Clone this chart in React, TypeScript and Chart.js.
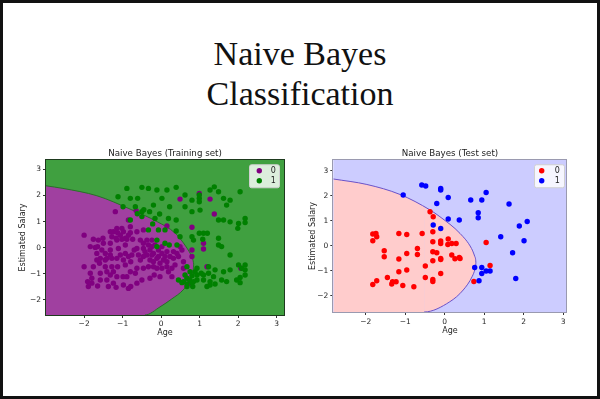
import React, { useEffect, useRef } from 'react';
import { Chart, registerables } from 'chart.js';

Chart.register(...registerables);

type Pt = [number, number];

// ---------- text ----------
const HEADLINE = ['Naive Bayes', 'Classification'];
const TRAIN_TITLE = 'Naive Bayes (Training set)';
const TEST_TITLE = 'Naive Bayes (Test set)';
const X_LABEL = 'Age';
const Y_LABEL = 'Estimated Salary';
const CLASS_LABELS = ['0', '1'];

// ---------- ticks ----------
const X_TICKS = [-2, -1, 0, 1, 2, 3];
const Y_TICKS = [-2, -1, 0, 1, 2, 3];

// ---------- axis limits ----------
const TRAIN_X_RANGE: Pt = [-2.99, 3.19];
const TRAIN_Y_RANGE: Pt = [-2.58, 3.36];
const TEST_X_RANGE: Pt = [-2.82, 3.09];
const TEST_Y_RANGE: Pt = [-2.65, 3.43];

// ---------- training set ----------
const TRAIN_CLASS1: Pt[] = [
  [-1.12, 1.95], [-0.89, 2.27], [-0.8, 1.89], [-0.61, 1.89], [-0.5, 2.31], [-0.33, 2.27], [-0.11, 2.21],
  [0.15, 2.21], [0.39, 2.31], [-0.67, 1.57], [-0.2, 1.63], [0.02, 1.89], [-0.5, 1.38], [-0.3, 1.38],
  [-0.16, 1.12], [0.19, 1.12], [0.39, 1.06], [-0.22, 0.91], [-0.04, 1.29], [0.22, 1.57], [0.62, 2.02],
  [0.8, 1.82], [0.99, 2.02], [0.99, 1.89], [0.99, 1.76], [0.62, 1.57], [0.8, 1.38], [1.01, 1.44],
  [1.27, 2.21], [1.38, 2.33], [1.49, 2.14], [1.62, 1.89], [1.79, 1.82], [2.05, 2.14], [1.7, 1.63],
  [1.49, 1.06], [1.62, 1.06], [1.79, 0.99], [2.01, 0.93], [1.99, 0.74], [2.18, 1.12], [2.18, 0.96],
  [-0.07, 0.68], [0.1, 0.68], [0.39, 0.64], [0.49, 0.42], [0.41, 0.1], [0.21, 0.1], [-0.11, 0.29],
  [-0.11, 0.04], [0.1, 0.17], [-0.33, 0.68], [-0.8, 1.06], [-0.5, 1.19], [-0.99, 1.57], [0.99, 0.55],
  [1.1, 0.55], [1.2, 0.55], [1.49, 0.36], [1.49, 0.1], [1.57, 0.04], [1.79, -0.28], [0.8, 0.42],
  [0.84, 0.29], [1.08, 0.32], [0.67, -0.73], [0.93, -0.79], [1.23, -0.73], [1.4, -0.85], [1.62, -0.92],
  [1.79, -0.85], [2.01, -0.66], [2.09, -0.79], [2.18, -0.66], [2.18, -0.85], [2.18, -1.05], [2.05, -1.14],
  [1.96, -1.24], [2.05, -1.34], [1.4, -1.39], [1.27, -1.3], [1.1, -1.24], [0.93, -1.05], [0.8, -1.08],
  [0.67, -1.17], [0.58, -1.3], [0.67, -1.39], [0.8, -1.34], [0.93, -1.24], [1.04, -0.98], [1.19, -1.49],
  [1.27, -1.43], [1.57, -1.24], [1.7, -1.3], [0.67, -1.49], [0.54, -1.34], [0.82, -1.49], [1.1, -1.05],
  [1.23, -0.98], [1.36, -1.11], [0.45, -1.24], [0.75, -0.92], [0.88, -0.92], [0.84, -1.3], [0.62, -1.05],
  [0.74, -1.24], [-0.62, 1.3], [-0.45, 1.45],
];

const TRAIN_CLASS0: Pt[] = [
  [-2.0, 0.48], [-2.0, -0.73], [-1.84, 0.04], [-1.76, 0.32], [-1.71, 0.01], [-1.65, 0.04], [-1.58, -0.41],
  [-1.51, 0.36], [-1.41, -0.41], [-1.32, 0.61], [-1.28, 0.42], [-1.24, 0.61], [-1.17, 0.36], [-1.13, 0.57],
  [-1.06, 0.48], [-1.02, 0.32], [-1.11, -0.03], [-0.98, 0.61], [-0.89, 0.32], [-0.8, 0.57], [-0.74, 0.32],
  [-0.7, -0.09], [-0.93, -0.22], [-1.06, -0.28], [-1.15, -0.41], [-1.28, -0.73], [-1.13, -0.73],
  [-0.93, -0.66], [-0.85, -0.34], [-0.79, -0.54], [-1.41, -0.92], [-1.24, -0.92], [-1.15, -1.11],
  [-1.32, -1.05], [-1.58, -0.98], [-1.84, -0.98], [-1.91, -1.3], [-1.89, -1.49], [-1.8, -1.36],
  [-1.65, -1.47], [-1.41, -1.24], [-1.37, -1.49], [-1.17, -1.52], [-0.99, -1.11], [-0.89, -1.11],
  [-0.79, -1.49], [-0.85, -1.56], [-0.63, -0.79], [-0.46, -0.79], [-0.33, -0.73], [-0.54, -0.47],
  [-0.46, -0.34], [-0.37, -0.28], [-0.29, -0.09], [-0.24, 0.04], [-0.2, -0.22], [-0.11, -0.41],
  [-0.2, -0.54], [-0.29, -0.47], [-0.46, -0.03], [-0.63, -0.03], [-0.54, 0.29], [-0.46, 0.17],
  [-0.37, 0.29], [-0.24, 0.29], [-0.07, -0.09], [0.02, -0.22], [0.06, -0.47], [0.15, -0.15],
  [0.23, -0.34], [0.15, -0.73], [0.02, -0.79], [-0.11, -0.79], [-0.18, -1.05], [0.19, -0.92],
  [0.28, -1.11], [0.32, -0.15], [0.41, -0.22], [0.58, -0.79], [0.54, -0.09], [0.8, -0.09], [0.58, -0.54],
  [0.8, -0.34], [-0.8, -0.92], [-0.67, -0.98], [-1.6, -0.6], [-1.45, -0.73], [-1.76, -0.73],
  [-1.45, -0.22], [-1.54, -0.09], [-1.32, -0.09], [-1.67, -0.22], [-0.93, 0.1], [-0.85, 0.48],
  [-1.19, 1.38], [-0.85, 1.06], [-0.65, 1.42], [0.15, 0.83], [0.49, 1.86], [0.99, 2.08], [1.27, 1.86],
  [1.38, 1.29], [0.8, 0.78], [1.1, 0.17], [1.1, -0.05], [1.19, -0.73], [2.07, -0.79], [0.78, -1.39],
  [-0.33, 0.1], [-0.16, 0.1], [0.02, 0.04], [-0.42, -0.15], [-0.24, -0.28], [-0.07, -0.34], [0.1, -0.34],
  [-0.2, -0.73], [-0.03, -0.6], [0.15, -0.54], [0.32, -0.41], [0.36, -0.66], [0.28, -0.79], [0.45, -0.34],
  [0.49, 0.04], [-0.03, -1.11], [-0.5, -1.24], [-0.29, -1.17], [-0.63, -1.36], [-0.98, -1.43],
  [-1.24, -1.36], [-1.58, -1.24], [-1.8, -1.17], [-1.15, 0.29], [-1.32, 0.17], [-1.5, 0.17],
  [-1.63, 0.29], [-0.93, 0.36], [-1.02, 0.74], [-1.15, 0.74], [-0.8, 0.8], [-0.63, 0.61], [-0.46, 0.68],
  [-0.59, -0.28], [-0.76, -0.28], [-0.98, -0.47], [-1.28, -0.41], [-1.45, -0.47], [-1.67, -0.47],
  [-1.32, -0.28],
];

// decision boundary, upper branch (left edge -> right tip) and lower branch (bottom edge -> right tip)
const TRAIN_BOUNDARY_UPPER: Pt[] = [
  [-2.99, 2.37], [-2.55, 2.27], [-1.67, 1.99], [-0.81, 1.48], [-0.11, 1.0], [0.36, 0.56], [0.65, 0.03],
  [0.79, -0.33], [0.83, -0.5], [0.845, -0.63],
];
const TRAIN_BOUNDARY_LOWER: Pt[] = [
  [-0.42, -2.58], [-0.03, -2.27], [0.28, -1.96], [0.57, -1.62], [0.75, -1.24], [0.82, -0.93],
  [0.838, -0.77], [0.845, -0.63],
];

// ---------- test set ----------
const TEST_CLASS1: Pt[] = [
  [-1.05, 2.03], [-0.58, 2.43], [-0.48, 2.39], [-0.1, 2.29], [-0.1, 2.23], [-0.2, 1.69], [0.09, 1.93],
  [0.66, 1.83], [0.94, 1.83], [1.05, 2.13], [1.63, 1.67], [0.09, 1.07], [0.37, 1.03], [0.85, 1.32],
  [0.85, 1.12], [-0.29, 0.83], [-0.1, 0.69], [1.89, 0.79], [2.09, 0.97], [1.42, 0.36], [2.01, 0.2],
  [1.72, -0.28], [0.76, -0.87], [0.94, -0.87], [0.94, -1.11], [1.05, -1.01], [1.15, -1.01], [0.87, -1.4],
  [1.8, -1.31],
];

const TEST_CLASS0: Pt[] = [
  [-0.37, 1.36], [-0.29, 1.16], [-0.3, 0.56], [-1.82, 0.47], [-1.74, 0.49], [-1.72, 0.36], [-1.82, 0.2],
  [-1.16, 0.49], [-0.96, 0.45], [-0.57, 0.49], [-0.3, 0.16], [-0.1, 0.19], [-0.1, 0.09], [0.09, 0.27],
  [0.08, 0.05], [0.18, 0.09], [0.29, 0.09], [1.05, 0.13], [-1.53, -0.2], [-1.53, -0.44], [-0.69, -0.11],
  [-0.69, -0.35], [-0.3, -0.24], [-0.2, -0.28], [-0.96, -0.31], [-1.16, -0.53], [-0.3, -0.6],
  [-0.1, -0.51], [-0.1, -0.55], [0.18, -0.37], [0.26, -0.52], [0.37, -0.47], [0.39, -0.51],
  [-0.49, -0.81], [-1.16, -1.04], [-0.96, -0.97], [-0.1, -1.11], [-0.49, -1.27], [-0.3, -1.35],
  [-0.3, -1.43], [-1.45, -1.27], [-1.72, -1.4], [-1.82, -1.55], [-1.32, -1.44], [-1.23, -1.44],
  [-1.34, -1.53], [-1.06, -1.59], [-0.78, -1.64], [0.74, -1.43], [1.15, -0.79],
];

const TEST_BOUNDARY_UPPER: Pt[] = [
  [-2.82, 2.67], [-1.97, 2.45], [-1.13, 2.05], [-0.37, 1.43], [-0.12, 1.16], [0.39, 0.49], [0.68, -0.11],
  [0.76, -0.42], [0.785, -0.56], [0.79, -0.66],
];
const TEST_BOUNDARY_LOWER: Pt[] = [
  [-0.52, -2.65], [0.13, -2.24], [0.47, -1.77], [0.7, -1.22], [0.77, -0.92], [0.787, -0.77], [0.79, -0.66],
];

interface PanelSpec {
  id: string;
  title: string;
  xRange: Pt;
  yRange: Pt;
  class0: Pt[];
  class1: Pt[];
  upper: Pt[];
  lower: Pt[];
  bg: string;
  region: string;
  line: string;
  c0: string;
  c1: string;
  frame: string;
  left: number;
  top: number;
  yAxisW: number;
  xAxisH: number;
  padRight: number;
  tickPad: number;
  xTitlePad: number;
  legend: { rightInset: number; markerDx: number; textDx: number };
}

const fmt = (v: number) => (v < 0 ? '\u2212' + Math.abs(v) : String(v));
const FAMILY = '"DejaVu Sans", sans-serif';
const toXY = (arr: Pt[]) => arr.map(([x, y]) => ({ x, y }));

function Panel({ spec }: { spec: PanelSpec }) {
  const ref = useRef<HTMLCanvasElement>(null);
  useEffect(() => {
    const s = spec;
    const canvas = ref.current!;
    // lower branch is closed along the bottom edge back to the left edge of the plot
    const lowerData = toXY([[s.xRange[0], s.yRange[0]] as Pt, ...s.lower]);

    const bgPlugin = {
      id: 'bg_' + s.id,
      beforeDraw(chart: any) {
        const { ctx, chartArea: a } = chart;
        ctx.save();
        ctx.fillStyle = s.bg;
        ctx.fillRect(a.left, a.top, a.right - a.left, a.bottom - a.top);
        ctx.restore();
      },
    };
    const framePlugin = {
      id: 'frame_' + s.id,
      afterDatasetsDraw(chart: any) {
        const { ctx, chartArea: a } = chart;
        ctx.save();
        ctx.strokeStyle = s.frame;
        ctx.lineWidth = 1;
        ctx.strokeRect(Math.round(a.left) - 0.5, Math.round(a.top) - 0.5, Math.round(a.right - a.left) + 1, Math.round(a.bottom - a.top) + 1);
        ctx.restore();
      },
    };
    const legendPlugin = {
      id: 'leg_' + s.id,
      afterDraw(chart: any) {
        const { ctx, chartArea: a } = chart;
        const w = 30, h = 23;
        const bx = a.right - s.legend.rightInset - w;
        const by = a.top + 4.3;
        ctx.save();
        ctx.fillStyle = 'rgba(255,255,255,0.82)';
        ctx.strokeStyle = '#d0d0d0';
        ctx.lineWidth = 1;
        ctx.beginPath();
        (ctx as any).roundRect(bx + 0.5, by + 0.5, w, h, 2);
        ctx.fill();
        ctx.stroke();
        const rows = [6.5, 16.5];
        const colors = [s.c0, s.c1];
        ctx.font = '8px ' + FAMILY;
        ctx.textAlign = 'center';
        ctx.textBaseline = 'middle';
        rows.forEach((ry, i) => {
          ctx.fillStyle = colors[i];
          ctx.beginPath();
          ctx.arc(bx + s.legend.markerDx, by + ry, 2.7, 0, Math.PI * 2);
          ctx.fill();
          ctx.fillStyle = '#222';
          ctx.fillText(CLASS_LABELS[i], bx + s.legend.textDx, by + ry + 0.5);
        });
        ctx.restore();
      },
    };

    const tickFont = { family: FAMILY, size: 7.5 };
    const labelFont = { family: FAMILY, size: 8 };
    const chart = new Chart(canvas, {
      type: 'scatter',
      data: {
        datasets: [
          {
            label: 'boundary-upper',
            data: toXY(s.upper),
            showLine: true,
            fill: '+1',
            backgroundColor: s.region,
            borderColor: s.line,
            borderWidth: 1,
            pointRadius: 0,
            cubicInterpolationMode: 'monotone',
            order: 10,
          } as any,
          {
            label: 'boundary-lower',
            data: lowerData,
            showLine: true,
            fill: false,
            backgroundColor: s.region,
            borderColor: s.line,
            borderWidth: 1,
            pointRadius: 0,
            cubicInterpolationMode: 'monotone',
            order: 9,
            segment: {
              borderColor: (c: any) => (c.p0DataIndex === 0 ? 'rgba(0,0,0,0)' : s.line),
            },
          } as any,
          {
            label: CLASS_LABELS[0],
            data: toXY(s.class0),
            backgroundColor: s.c0,
            borderWidth: 0,
            pointBorderWidth: 0,
            pointRadius: 2.7,
            order: 1,
          },
          {
            label: CLASS_LABELS[1],
            data: toXY(s.class1),
            backgroundColor: s.c1,
            borderWidth: 0,
            pointBorderWidth: 0,
            pointRadius: 2.7,
            order: 0,
          },
        ],
      },
      options: {
        responsive: false,
        animation: false,
        devicePixelRatio: 1,
        layout: { padding: { left: 0, right: s.padRight, top: 0, bottom: 0 } },
        plugins: {
          legend: { display: false },
          tooltip: { enabled: false },
          title: {
            display: true,
            text: s.title,
            fullSize: false,
            color: '#222',
            font: { family: FAMILY, size: 8.7, weight: 'normal', lineHeight: 1.1 },
            padding: { top: 9.2, bottom: 1.2 },
          } as any,
        },
        scales: {
          x: {
            type: 'linear',
            min: s.xRange[0],
            max: s.xRange[1],
            afterBuildTicks: (sc: any) => {
              sc.ticks = X_TICKS.map((v) => ({ value: v }));
            },
            afterFit: (sc: any) => {
              sc.height = s.xAxisH;
            },
            grid: { drawOnChartArea: false, drawTicks: true, tickLength: 3, tickColor: '#333', color: '#333' },
            border: { display: false },
            ticks: {
              autoSkip: false,
              maxRotation: 0,
              padding: s.tickPad,
              color: '#262626',
              font: tickFont,
              callback: (v: any) => fmt(Number(v)),
            },
            title: {
              display: true,
              text: X_LABEL,
              color: '#262626',
              font: labelFont,
              padding: { top: 0, bottom: s.xTitlePad },
            },
          },
          y: {
            type: 'linear',
            min: s.yRange[0],
            max: s.yRange[1],
            afterBuildTicks: (sc: any) => {
              sc.ticks = Y_TICKS.map((v) => ({ value: v }));
            },
            afterFit: (sc: any) => {
              sc.width = s.yAxisW;
            },
            grid: { drawOnChartArea: false, drawTicks: true, tickLength: 3, tickColor: '#333', color: '#333' },
            border: { display: false },
            ticks: {
              autoSkip: false,
              padding: 2,
              color: '#262626',
              font: tickFont,
              callback: (v: any) => fmt(Number(v)),
            },
            title: {
              display: true,
              text: Y_LABEL,
              color: '#262626',
              font: labelFont,
              padding: { top: 8, bottom: 0 },
            },
          },
        },
      } as any,
      plugins: [bgPlugin, framePlugin, legendPlugin],
    });
    return () => chart.destroy();
  }, [spec]);

  return (
    <canvas
      ref={ref}
      width={290}
      height={205}
      style={{ position: 'absolute', left: spec.left, top: spec.top, width: 290, height: 205 }}
    />
  );
}

const TRAIN_SPEC: PanelSpec = {
  id: 'train',
  title: TRAIN_TITLE,
  xRange: TRAIN_X_RANGE,
  yRange: TRAIN_Y_RANGE,
  class0: TRAIN_CLASS0,
  class1: TRAIN_CLASS1,
  upper: TRAIN_BOUNDARY_UPPER,
  lower: TRAIN_BOUNDARY_LOWER,
  bg: '#40a040',
  region: '#a040a0',
  line: '#2a6e2a',
  c0: '#800080',
  c1: '#008000',
  frame: '#1e3a1e',
  left: 10,
  top: 140,
  yAxisW: 36,
  xAxisH: 30,
  padRight: 16,
  tickPad: 1.5,
  xTitlePad: 7.5,
  legend: { rightInset: 5, markerDx: 10.3, textDx: 24.3 },
};

const TEST_SPEC: PanelSpec = {
  id: 'test',
  title: TEST_TITLE,
  xRange: TEST_X_RANGE,
  yRange: TEST_Y_RANGE,
  class0: TEST_CLASS0,
  class1: TEST_CLASS1,
  upper: TEST_BOUNDARY_UPPER,
  lower: TEST_BOUNDARY_LOWER,
  bg: '#ccccff',
  region: '#ffcccc',
  line: '#6a52c8',
  c0: '#ff0000',
  c1: '#0000ff',
  frame: '#9a9ab0',
  left: 300,
  top: 140,
  yAxisW: 33.3,
  xAxisH: 33,
  padRight: 23.3,
  tickPad: 3,
  xTitlePad: 9.5,
  legend: { rightInset: 2.7, markerDx: 7.7, textDx: 23.3 },
};

export default function App() {
  useEffect(() => {
    document.body.style.margin = '0';
  }, []);
  const headStyle = (top: number): React.CSSProperties => ({
    position: 'absolute',
    left: 0,
    top,
    width: 600,
    textAlign: 'center',
    fontFamily: '"Liberation Serif", serif',
    fontSize: 34,
    lineHeight: '34px',
    color: '#111',
    whiteSpace: 'nowrap',
  });
  return (
    <div style={{ position: 'fixed', left: 0, top: 0, width: 600, height: 399, background: '#fff', overflow: 'hidden' }}>
      <div style={headStyle(36.5)}>{HEADLINE[0]}</div>
      <div style={headStyle(76.5)}>{HEADLINE[1]}</div>
      <Panel spec={TRAIN_SPEC} />
      <Panel spec={TEST_SPEC} />
      <div
        style={{
          position: 'absolute',
          left: 0,
          top: 0,
          width: 600,
          height: 399,
          boxSizing: 'border-box',
          border: '3px solid #111',
          pointerEvents: 'none',
        }}
      />
    </div>
  );
}
